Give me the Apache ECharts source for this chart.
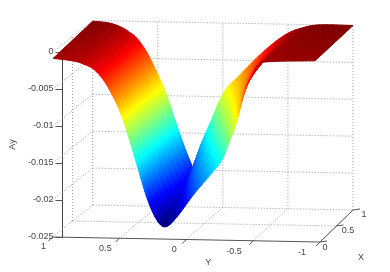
<!DOCTYPE html>
<html><head><meta charset="utf-8">
<style>html,body{margin:0;padding:0;background:#fff}#c{width:390px;height:272px}</style>
<script src="https://cdn.jsdelivr.net/npm/echarts@6/dist/echarts.min.js"></script>
</head><body><div id="c"></div>
<script>
// Surface rims (Y coordinate, Ay value) at X=0 and X=1
const frontY=[0.995,0.843,0.769,0.694,0.619,0.545,0.485,0.433,0.366,0.291,0.216,0.151,0.069,-0.052,-0.179,-0.266,-0.328,-0.381,-0.44,-0.493,-0.537,-0.612,-0.963];
const frontZ=[-0.00079,-0.0011,-0.00148,-0.00213,-0.00359,-0.00588,-0.00829,-0.01112,-0.01516,-0.01961,-0.02256,-0.02332,-0.02194,-0.01896,-0.01619,-0.01413,-0.01141,-0.00867,-0.00459,-0.00255,-0.00118,-0.0007,-0.00045];
const backY=[1.0,0.869,0.769,0.715,0.662,0.585,0.508,0.431,0.373,0.323,0.277,0.231,0.192,0.154,0.087,0.023,-0.038,-0.115,-0.3,-0.477,-0.608,-0.746,-1.0];
const backZ=[-0.0001,-0.0003,-0.00093,-0.00153,-0.00226,-0.00413,-0.00682,-0.0099,-0.013,-0.01556,-0.01771,-0.01973,-0.01775,-0.01591,-0.01317,-0.01045,-0.00866,-0.00728,-0.00396,-0.00146,-0.00047,0,0];
const zTicks=[0,-0.005,-0.01,-0.015,-0.02,-0.025];
const yTicks=[1,0.5,0,-0.5,-1];
const xTicks=[0,0.5,1];
const zMin=-0.0233, zMax=0;
const notchIndex=11;

// view projection: floor corners of the box plus vertical scale
const FL={x:52.5,y:237}, FR={x:320,y:242}, BL={x:92.7,y:205}, BR={x:353,y:210}, ZS=7380;
function proj(X,Y,z){
  const u=(1-Y)/2;
  const fx=FL.x+(FR.x-FL.x)*u, fy=FL.y+(FR.y-FL.y)*u;
  const bx=BL.x+(BR.x-BL.x)*u, by=BL.y+(BR.y-BL.y)*u;
  return [fx+(bx-fx)*X, fy+(by-fy)*X-(z+0.025)*ZS];
}
function jet(t){
  t=Math.max(0,Math.min(1,t));
  const f=v=>Math.round(255*Math.max(0,Math.min(1,1.5-Math.abs(4*t-v))));
  return 'rgb('+f(3)+','+f(2)+','+f(1)+')';
}
const lerp=(a,b,t)=>a+(b-a)*t;
// Render-time curve through the read samples (mesh smoothing only); lo/hi limit the span
function curve(arr,i,s,lo,hi){
  const g=j=>arr[Math.max(lo,Math.min(hi,j))];
  const p0=g(i-1),p1=g(i),p2=g(i+1),p3=g(i+2);
  return 0.5*((2*p1)+(-p0+p2)*s+(2*p0-5*p1+4*p2-p3)*s*s+(-p0+3*p1-3*p2+p3)*s*s*s);
}
const NS=8,NX=10;
function surfaceItem(params,api){
  const kids=[];
  const n=frontY.length-1;
  const pt=(i,s,xf)=>{
    const y0=curve(frontY,i,s,0,n), z0=curve(frontZ,i,s,0,n);
    const lo=i<notchIndex?0:notchIndex, hi=i<notchIndex?notchIndex:n;
    const y1=curve(backY,i,s,lo,hi), z1=curve(backZ,i,s,lo,hi);
    const z=lerp(z0,z1,xf);
    return {p:api.coord(proj(xf,lerp(y0,y1,xf),z)),z};
  };
  for(let i=0;i<n;i++){
    for(let s=0;s<NS;s++){
      for(let k=NX-1;k>=0;k--){
        const a=pt(i,s/NS,k/NX),b=pt(i,(s+1)/NS,k/NX),c=pt(i,(s+1)/NS,(k+1)/NX),d=pt(i,s/NS,(k+1)/NX);
        const col=jet(((a.z+b.z+c.z+d.z)/4-zMin)/(zMax-zMin));
        kids.push({type:'polygon',shape:{points:[a.p,b.p,c.p,d.p]},style:{fill:col,stroke:col,lineWidth:1},silent:true});
      }
    }
  }
  return {type:'group',children:kids};
}
const line=(api,a,b,st)=>{
  const p=api.coord(a),q=api.coord(b);
  return {type:'line',shape:{x1:p[0],y1:p[1],x2:q[0],y2:q[1]},style:st,silent:true};
};
const DOT={stroke:'#999',lineWidth:1,lineDash:[1,2]};
function gridItem(params,api){
  const k=[];
  const L=(a,b)=>k.push(line(api,proj(...a),proj(...b),DOT));
  zTicks.forEach(z=>{L([1,1,z],[1,-1,z]);L([0,1,z],[1,1,z]);});
  yTicks.forEach(y=>{L([1,y,-0.025],[1,y,0]);if(y>-1&&y<1)L([0,y,-0.025],[1,y,-0.025]);});
  L([0.5,1,-0.025],[0.5,1,0]);
  L([0.5,1,-0.025],[0.5,-1,-0.025]);
  L([0,-1,-0.025],[1,-1,-0.025]);
  return {type:'group',children:k};
}
const AX={stroke:'#555',lineWidth:1};
const TXT={fill:'#444',fontFamily:'Liberation Sans',fontSize:9,align:'center',verticalAlign:'middle'};
const yLabelShift={'1':[-9,10],'0.5':[-14,10.5],'0':[-12,10.5],'-0.5':[-19,11],'-1':[-18,11]};
const xLabelShift={'0':[5,6],'0.5':[11.5,5],'1':[11,5]};
function axesItem(params,api){
  const k=[];
  const T=(s,at,dx,dy)=>{const c=api.coord(at);k.push({type:'text',x:c[0]+dx,y:c[1]+dy,style:Object.assign({},TXT,{text:s}),silent:true});};
  k.push(line(api,proj(0,1,-0.025),proj(0,-1,-0.025),AX));
  k.push(line(api,proj(0,-1,-0.025),proj(1,-1,-0.025),AX));
  yTicks.forEach(y=>{
    const a=proj(0,y,-0.025);
    k.push(line(api,a,[a[0]-4,a[1]+4],AX));
    const sh=yLabelShift[String(y)];
    T(String(y),a,sh[0],sh[1]);
  });
  xTicks.forEach(x=>{
    const a=proj(x,-1,-0.025);
    k.push(line(api,a,[a[0]+7,a[1]-1],AX));
    const sh=xLabelShift[String(x)];
    T(String(x),a,sh[0],sh[1]);
  });
  T('Y',proj(0,0,-0.025),22,23.5);
  T('X',proj(0,-1,-0.025),41,16);
  return {type:'group',children:k};
}
const chart=echarts.init(document.getElementById('c'),null,{renderer:'canvas'});
chart.setOption({
  animation:false,
  backgroundColor:'#fff',
  grid:[
    {left:52.5,top:52,width:285,height:185,containLabel:false},
    {left:0,top:0,width:390,height:272}
  ],
  xAxis:[
    {gridIndex:0,type:'value',show:false,min:0,max:1},
    {gridIndex:1,type:'value',show:false,min:0,max:390}
  ],
  yAxis:[
    {gridIndex:0,type:'value',min:-0.025,max:0,interval:0.005,
     name:'Ay',nameLocation:'middle',nameGap:45,nameRotate:90,
     nameTextStyle:{color:'#444',fontFamily:'Liberation Sans',fontSize:9},
     axisLine:{show:true,onZero:false,lineStyle:{color:'#444',width:1}},
     axisTick:{show:true,length:7,lineStyle:{color:'#555'}},
     axisLabel:{show:true,color:'#444',fontFamily:'Liberation Sans',fontSize:9,margin:9,
       formatter:v=>String(+v.toFixed(3))},
     splitLine:{show:false}},
    {gridIndex:1,type:'value',show:false,min:0,max:272,inverse:true}
  ],
  series:[
    {type:'custom',xAxisIndex:1,yAxisIndex:1,coordinateSystem:'cartesian2d',data:[[0,0]],renderItem:gridItem,silent:true,z:1,clip:false},
    {type:'custom',xAxisIndex:1,yAxisIndex:1,coordinateSystem:'cartesian2d',data:[[0,0]],renderItem:surfaceItem,silent:true,z:2,clip:false},
    {type:'custom',xAxisIndex:1,yAxisIndex:1,coordinateSystem:'cartesian2d',data:[[0,0]],renderItem:axesItem,silent:true,z:3,clip:false}
  ]
});
</script></body></html>
